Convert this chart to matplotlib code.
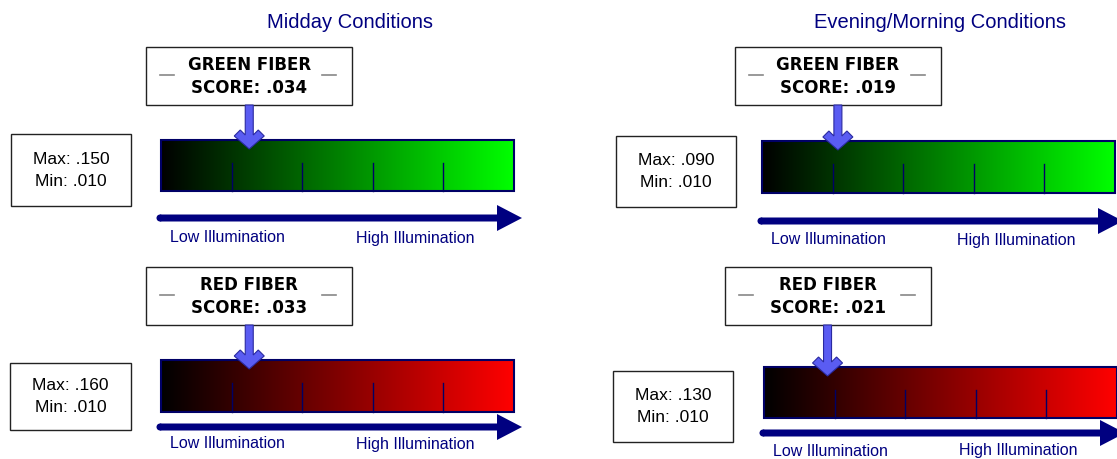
import numpy as np
import matplotlib
matplotlib.use('Agg')
from matplotlib import pyplot as plt
from matplotlib.patches import Rectangle, Polygon, FancyArrow, Circle

plt.rcParams['font.family'] = ['Liberation Sans', 'DejaVu Sans']

# chart data
conditions = ['Midday Conditions', 'Evening/Morning Conditions']
fibers = ['GREEN FIBER', 'RED FIBER']
fiber_colors = [(0.0, 1.0, 0.0), (1.0, 0.0, 0.0)]
score_midday = [0.034, 0.033]
score_evening = [0.019, 0.021]
max_midday = [0.150, 0.160]
max_evening = [0.090, 0.130]
min_midday = [0.010, 0.010]
min_evening = [0.010, 0.010]
# where the pointer sits along the bar
marker_midday = [0.25, 0.25]
marker_evening = [0.215, 0.18]
axis_labels = ['Low Illumination', 'High Illumination']

# layout per panel (pixels): bar x, bar top, bar height, label box top, min/max box, navy arrow dy, label dy
layout = {
    (0, 0): dict(bx=161, by=140, bh=51, box_top=47, mm=(11, 134, 120, 72), ady=78, ldy=98),
    (0, 1): dict(bx=161, by=360, bh=52, box_top=267, mm=(10, 363, 121, 67), ady=67, ldy=84),
    (1, 0): dict(bx=762, by=141, bh=52, box_top=47, mm=(616, 136, 120, 71), ady=80, ldy=99),
    (1, 1): dict(bx=764, by=367, bh=51, box_top=267, mm=(613, 371, 120, 71), ady=66, ldy=84),
}
title_x = [350, 940]
BAR_W = 353
NAVY = '#000080'

def fmt(v):
    return ('%.3f' % v).lstrip('0')

fig = plt.figure(figsize=(11.17, 4.59), dpi=100)
ax = fig.add_axes([0, 0, 1, 1])
ax.set_xlim(0, 1117)
ax.set_ylim(459, 0)
ax.axis('off')

for c, cond in enumerate(conditions):
    ax.text(title_x[c], 22, cond, ha='center', va='center', fontsize=14.5, color=NAVY)
    scores = [score_midday, score_evening][c]
    maxs = [max_midday, max_evening][c]
    mins = [min_midday, min_evening][c]
    marks = [marker_midday, marker_evening][c]
    for f, fiber in enumerate(fibers):
        L = layout[(c, f)]
        bx, by, bh = L['bx'], L['by'], L['bh']

        # gradient bar
        grad = np.linspace(0, 1, 256)[None, :, None] * np.array(fiber_colors[f])[None, None, :]
        ax.imshow(grad, extent=(bx, bx + BAR_W, by + bh, by), aspect='auto', zorder=1)
        ax.add_patch(Rectangle((bx, by), BAR_W, bh, fill=False, ec='#000066', lw=1.5, zorder=2))
        for k in range(1, 5):
            tx = bx + BAR_W * k / 5
            ax.plot([tx, tx], [by + bh * 0.45, by + bh], color='#000066', lw=1, zorder=2)

        # label box
        px = bx + marks[f] * BAR_W
        bt = L['box_top']
        ax.add_patch(Rectangle((px - 103, bt), 206, 58, fc='white', ec='#222222', lw=1, zorder=3))
        ax.text(px, bt + 18, fiber, ha='center', va='center', fontsize=12, weight='bold',
                family='DejaVu Sans', zorder=4)
        ax.text(px, bt + 41, 'SCORE: ' + fmt(scores[f]), ha='center', va='center',
                fontsize=12, weight='bold', family='DejaVu Sans', zorder=4)
        for dx in (-82, 80):
            ax.plot([px + dx - 7, px + dx + 7], [bt + 28, bt + 28], color='#888888', lw=1.2, zorder=4)

        # pointer arrow
        tip = by + 9
        pts = [(px, tip), (px - 15, tip - 13), (px - 9, tip - 19), (px - 4, tip - 14),
               (px - 4, bt + 58), (px + 4, bt + 58), (px + 4, tip - 14), (px + 9, tip - 19),
               (px + 15, tip - 13)]
        ax.add_patch(Polygon(pts, closed=True, fc='#5a5cf2', ec='#2a2aa0', lw=0.8, zorder=5))

        # min / max box
        mx, my, mw, mh = L['mm']
        ax.add_patch(Rectangle((mx, my), mw, mh, fc='white', ec='#222222', lw=1, zorder=3))
        ax.text(mx + mw / 2, my + mh / 2 - 11, 'Max: ' + fmt(maxs[f]), ha='center', va='center',
                fontsize=12.5, zorder=4)
        ax.text(mx + mw / 2, my + mh / 2 + 11, 'Min: ' + fmt(mins[f]), ha='center', va='center',
                fontsize=12.5, zorder=4)

        # illumination arrow
        ay = by + L['ady']
        ax.add_patch(FancyArrow(bx - 1, ay, 337, 0, width=7, head_width=26, head_length=25,
                                length_includes_head=False, fc=NAVY, ec=NAVY, lw=0, zorder=2))
        ax.add_patch(Circle((bx - 1, ay), 3.5, fc=NAVY, ec='none', zorder=2))
        ax.text(bx + 9, by + L['ldy'], axis_labels[0], ha='left', va='center', fontsize=11.5, color=NAVY)
        ax.text(bx + 195, by + L['ldy'], axis_labels[1], ha='left', va='center', fontsize=11.5, color=NAVY)

fig.savefig('out.png', dpi=100, facecolor='white')
